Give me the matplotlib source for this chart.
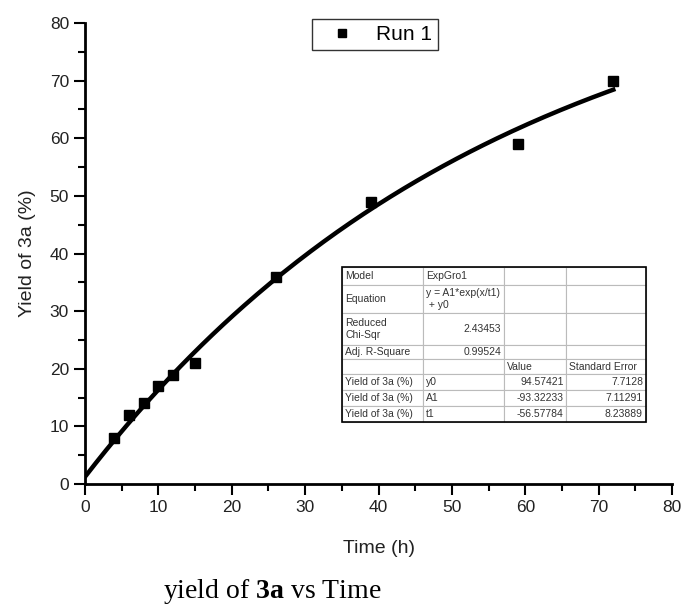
import numpy as np
import matplotlib
matplotlib.use("Agg")
import matplotlib.pyplot as plt

plt.rcParams['font.family'] = ['Liberation Sans', 'DejaVu Sans']
plt.rcParams['mathtext.fontset'] = 'custom'
plt.rcParams['mathtext.rm'] = 'Liberation Serif'
plt.rcParams['mathtext.bf'] = 'Liberation Serif:bold'

# data
time_h = [4, 6, 8, 10, 12, 15, 26, 39, 59, 72]
yield_3a = [8, 12, 14, 17, 19, 21, 36, 49, 59, 70]

# ExpGro1 fit parameters (from the table in the chart)
y0 = 94.57421
A1 = -93.32233
t1 = -56.57784
std_err = ["7.7128", "7.11291", "8.23889"]
chi_sqr = "2.43453"
adj_r2 = "0.99524"

fig = plt.figure(figsize=(6.83, 6.06), dpi=100)
ax = fig.add_axes([0.1245, 0.2013, 0.8594, 0.7607])

xfit = np.linspace(0, max(time_h), 200)
yfit = A1 * np.exp(xfit / t1) + y0
ax.plot(xfit, yfit, color='black', lw=3.2, zorder=2)
ax.plot(time_h, yield_3a, 's', color='black', ms=7.8, label='Run 1', zorder=3)

ax.set_xlim(0, 80)
ax.set_ylim(0, 80)
ax.set_xticks(range(0, 81, 10))
ax.set_yticks(range(0, 81, 10))
ax.set_xticks(range(5, 80, 10), minor=True)
ax.set_yticks(range(5, 80, 10), minor=True)
ax.tick_params(which='major', direction='out', length=8, width=1.5, labelsize=12.5, colors='black')
ax.tick_params(which='minor', direction='out', length=5, width=1.5)
ax.tick_params(labelcolor='#222222')
for s in ['top', 'right']:
    ax.spines[s].set_visible(False)
for s in ['left', 'bottom']:
    ax.spines[s].set_linewidth(2)

ax.set_xlabel('Time (h)', fontsize=14, labelpad=18, color='#222222')
ax.set_ylabel('Yield of 3a (%)', fontsize=14, labelpad=10, color='#222222')

leg = ax.legend(loc='upper left', bbox_to_anchor=(0.387, 1.009), fontsize=15,
                frameon=True, fancybox=False, edgecolor='black', handletextpad=0.45,
                borderpad=0.3, borderaxespad=0, handlelength=2.3, markerscale=0.75)
leg.get_frame().set_linewidth(1.0)

rows = [
    ["Model", "ExpGro1", "", ""],
    ["Equation", "y = A1*exp(x/t1)\n + y0", "", ""],
    ["Reduced\nChi-Sqr", chi_sqr, "", ""],
    ["Adj. R-Square", adj_r2, "", ""],
    ["", "", "Value", "Standard Error"],
    ["Yield of 3a (%)", "y0", f"{y0:.5f}", std_err[0]],
    ["Yield of 3a (%)", "A1", f"{A1:.5f}", std_err[1]],
    ["Yield of 3a (%)", "t1", f"{t1:.5f}", std_err[2]],
]
col_w = [81, 81, 62, 80]
row_h = [18, 28, 32, 14, 15, 16, 16, 16]

tbl = ax.table(cellText=rows, colWidths=[w / 304 for w in col_w],
               bbox=[0.438, 0.134, 0.518, 0.337], zorder=5)
tbl.auto_set_font_size(False)
tbl.set_fontsize(7.5)
right_cells = {(2, 1), (3, 1), (5, 2), (6, 2), (7, 2), (5, 3), (6, 3), (7, 3)}
for (r, c), cell in tbl.get_celld().items():
    cell.set_height(row_h[r] / 155)
    cell.set_edgecolor('#bbbbbb')
    cell.set_linewidth(0.8)
    cell.set_facecolor('white')
    cell.PAD = 0.04
    t = cell.get_text()
    t.set_color('#333333')
    if (r, c) in right_cells:
        cell._loc = 'right'
        t.set_ha('right')
    else:
        cell._loc = 'left'
        t.set_ha('left')

# outer border of the table
ax.add_patch(plt.Rectangle((0.438, 0.134), 0.518, 0.337, transform=ax.transAxes,
                           fill=False, edgecolor='black', lw=1.2, zorder=6))

fig.text(0.399, 0.013, 'yield of $\\mathbf{3a}$ vs Time', ha='center', fontsize=20,
         family='Liberation Serif')

fig.savefig('out.png', dpi=100)
